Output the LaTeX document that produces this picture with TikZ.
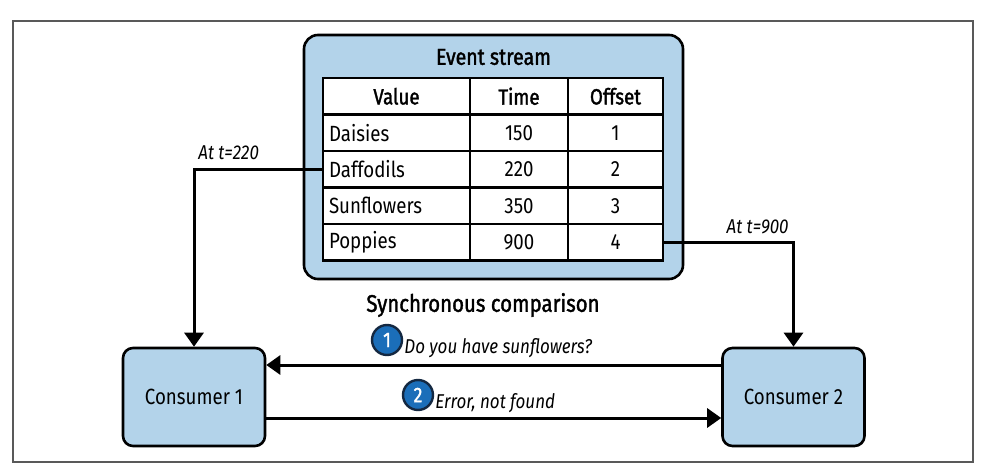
\documentclass[tikz,border=0pt]{standalone}
\usepackage{fontspec}
\setmainfont{Fira Sans}[FakeStretch=0.85]
\newfontfamily\headfont{Fira Sans}[FakeStretch=0.85, FakeBold=1.6]
\usetikzlibrary{arrows.meta}
\definecolor{boxblue}{RGB}{179,211,234}
\definecolor{numblue}{RGB}{27,110,185}
\definecolor{numedge}{RGB}{20,40,65}

\begin{document}
\begin{tikzpicture}[x=0.5pt, y=-0.5pt,
    cell/.style={draw, fill=white, line width=1.3pt, minimum height=18.25pt, inner xsep=3pt,
      font=\fontsize{11}{13}\selectfont},
    valcell/.style={cell, text width=67.5pt, align=left},
    timecell/.style={cell, minimum width=49pt},
    offcell/.style={cell, minimum width=47.5pt},
    head/.style={font=\fontsize{11}{13}\selectfont\headfont},
    consumer/.style={draw, line width=1.3pt, fill=boxblue, rounded corners=5pt,
      minimum width=71pt, minimum height=49pt, font=\fontsize{11}{13}\selectfont},
    flow/.style={line width=1.5pt, -{Triangle[length=7pt, width=9.5pt]}},
    tlabel/.style={font=\fontsize{10}{12}\selectfont\itshape, inner sep=1pt},
    num/.style={circle, draw=numedge, line width=1.2pt, fill=numblue, text=white,
      minimum size=15pt, inner sep=0pt, font=\fontsize{10.5}{12}\selectfont\headfont}]
    \useasboundingbox (0,0) rectangle (986,476);
    % Cadre
    \draw[line width=0.8pt, black!65] (13,21) rectangle (973,462);

    % Flux d'événements
    \draw[line width=1.3pt, fill=boxblue, rounded corners=7pt] (304,35) rectangle (683,279);
    \node[head, font=\fontsize{11.5}{13}\selectfont\headfont] (title) at (493.5,57) {Event stream};
    \node[valcell, head, align=center] (vh) at (396.5,96.25) {Value};
    \node[timecell, head] (th) at (519,96.25) {Time};
    \node[offcell, head] (oh) at (615.5,96.25) {Offset};
    \foreach \val/\tim/\off [count=\i] in {Daisies/150/1, Daffodils/220/2,
        Sunflowers/350/3, Poppies/900/4} {
      \node[valcell] (v\i) at (396.5,96.25+36.5*\i) {\val};
      \node[timecell] (t\i) at (519,96.25+36.5*\i) {\tim};
      \node[offcell] (o\i) at (615.5,96.25+36.5*\i) {\off};
    }

    % Consommateurs
    \node[consumer] (c1) at (194,397) {Consumer 1};
    \node[consumer] (c2) at (793.5,397) {Consumer 2};

    % Lectures du flux
    \draw[flow] (v2.west) -| (c1.north);
    \draw[flow] (o4.east) -| (c2.north);
    \node[tlabel, anchor=base west] (at1) at (196,160) {At t=220};
    \node[tlabel, anchor=base east] (at2) at (791,234) {At t=900};

    % Comparaison synchrone
    \node[head, font=\fontsize{12}{14}\selectfont\headfont] (sync) at (483,305) {Synchronous comparison};
    \draw[flow] ([yshift=16pt]c2.west) -- ([yshift=16pt]c1.east);
    \draw[flow] ([yshift=-10.5pt]c1.east) -- ([yshift=-10.5pt]c2.west);
    \node[num] (n1) at (387,340) {1};
    \node[tlabel, anchor=base west] (q1) at (402,353) {Do you have sunflowers?};
    \node[num] (n2) at (418,395) {2};
    \node[tlabel, anchor=base west] (q2) at (433,408) {Error, not found};
\end{tikzpicture}
\end{document}
